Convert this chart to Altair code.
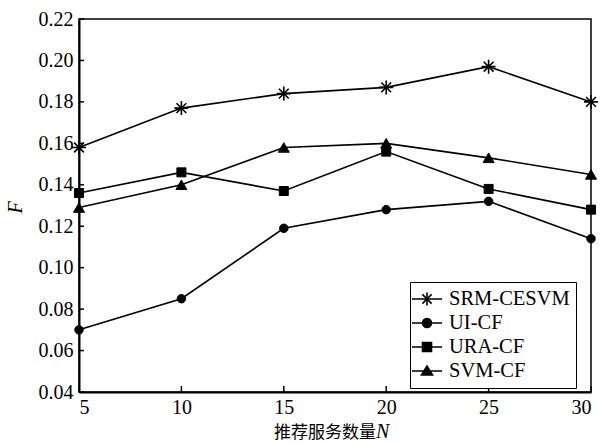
import altair as alt
import pandas as pd

N_values = [5, 10, 15, 20, 25, 30]
series_names = ["SRM-CESVM", "UI-CF", "URA-CF", "SVM-CF"]
srm_cesvm = [0.158, 0.177, 0.184, 0.187, 0.197, 0.180]
ui_cf = [0.070, 0.085, 0.119, 0.128, 0.132, 0.114]
ura_cf = [0.136, 0.146, 0.137, 0.156, 0.138, 0.128]
svm_cf = [0.129, 0.140, 0.158, 0.160, 0.153, 0.145]
y_ticks = [0.04, 0.06, 0.08, 0.10, 0.12, 0.14, 0.16, 0.18, 0.20, 0.22]
x_ticks = [5, 10, 15, 20, 25, 30]

rows = []
for name, vals in zip(series_names, [srm_cesvm, ui_cf, ura_cf, svm_cf]):
    for n, v in zip(N_values, vals):
        rows.append({"N": n, "F": v, "series": name})
df = pd.DataFrame(rows)

W, H = 512, 373
SERIF = "Liberation Serif"

star = "M-1,0H1M0,-1V1M-0.7,-0.7L0.7,0.7M-0.7,0.7L0.7,-0.7"
plot_shapes = [star, "circle", "square", "triangle-up"]
plot_sizes = [196, 72, 81, 121]

# legend symbols: marker part (filled) and line + outline part (stroked)
m_star = "M0,-0.65V0.65M-0.46,-0.46L0.46,0.46M-0.46,0.46L0.46,-0.46M-0.65,0H0.65"
m_circle = "M0.45,0A0.45,0.45 0 1,1 -0.45,0A0.45,0.45 0 1,1 0.45,0Z"
m_square = "M-0.45,-0.45H0.45V0.45H-0.45Z"
m_tri = "M-0.55,0.4L0,-0.5L0.55,0.4Z"
fill_shapes = ["M-1.5,0H1.5" + m for m in [m_star, m_circle, m_square, m_tri]]
line_shapes = ["M-1.5,0H1.5" + m for m in [m_star, m_circle, m_square, m_tri]]

xscale = alt.Scale(domain=[5, 30], nice=False)
yscale = alt.Scale(domain=[0.04, 0.22], nice=False, zero=False)

x_enc = alt.X("N:Q", scale=xscale,
              axis=alt.Axis(values=x_ticks, title=None, ticks=False, labelPadding=5,
                            labelFont=SERIF, labelFontSize=20, labelColor="black",
                            domainColor="black", domainWidth=2, grid=False))
y_enc = alt.Y("F:Q", scale=yscale,
              axis=alt.Axis(values=y_ticks, format=".2f", title="F", ticks=False,
                            labelPadding=6, labelFont=SERIF, labelFontSize=20,
                            labelColor="black", domainColor="black", domainWidth=2,
                            grid=False, titleFont=SERIF, titleFontStyle="italic",
                            titleFontWeight="normal", titleFontSize=20,
                            titleColor="black", titleAngle=-90, titleX=-54,
                            titleY=188, titleAlign="center", titleBaseline="bottom"))

lines = alt.Chart(df).mark_line(color="black", strokeWidth=1.6).encode(
    x=x_enc, y=y_enc, detail="series:N")

point_layers = []
for name, shp, sz in zip(series_names, plot_shapes, plot_sizes):
    sw = 1.6 if shp == star else 1.0
    point_layers.append(
        alt.Chart(df).transform_filter(alt.datum.series == name).mark_point(
            filled=True, fill="black", stroke="black", strokeWidth=sw, opacity=1,
            shape=shp, size=sz).encode(
            x=alt.X("N:Q", scale=xscale), y=alt.Y("F:Q", scale=yscale))
    )

def legend_props(show_box, label_opacity):
    kw = dict(title=None, orient="none", legendX=331, legendY=263,
              labelFont=SERIF, labelFontSize=20.5, labelColor="black",
              labelOpacity=label_opacity, symbolSize=400, symbolStrokeWidth=1.6,
              symbolStrokeColor="black", symbolFillColor="black",
              padding=6, rowPadding=2, labelOffset=11)
    if show_box:
        kw.update(strokeColor="black", fillColor="white")
    return alt.Legend(**kw)

legend_fill = alt.Chart(df).transform_filter("datum.N > 1000").mark_point(
    filled=True, fill="black", size=400, opacity=1).encode(
    x=alt.X("N:Q", scale=xscale), y=alt.Y("F:Q", scale=yscale),
    shape=alt.Shape("series:N", scale=alt.Scale(domain=series_names, range=fill_shapes),
                    legend=legend_props(True, 1)),
)
legend_line = alt.Chart(df).transform_filter("datum.N > 1000").mark_point(
    filled=False, stroke="black", strokeWidth=1.6, size=400, opacity=1).encode(
    x=alt.X("N:Q", scale=xscale), y=alt.Y("F:Q", scale=yscale),
    strokeDash=alt.StrokeDash("series:N", scale=alt.Scale(domain=series_names,
                              range=[[1, 0], [1, 0], [1, 0], [1, 0]]), legend=None),
    shape=alt.Shape("series:N", scale=alt.Scale(domain=series_names, range=line_shapes),
                    legend=legend_props(False, 0)),
)

tick_data = pd.DataFrame({"v": y_ticks})
ytick_rules = alt.Chart(tick_data).mark_rule(color="black", strokeWidth=1.5).encode(
    x=alt.value(0), x2=alt.value(5), y=alt.Y("v:Q", scale=yscale))
xtick_data = pd.DataFrame({"t": x_ticks})
xtick_rules = alt.Chart(xtick_data).mark_rule(color="black", strokeWidth=1.5).encode(
    x=alt.X("t:Q", scale=xscale), y=alt.value(H - 6), y2=alt.value(H))

one = alt.Data(values=[{"a": 1}])
title_cn = alt.Chart(one).mark_text(font="Noto Sans CJK SC", fontSize=17, align="right",
                                    baseline="alphabetic", color="black").encode(
    x=alt.value(297), y=alt.value(419), text=alt.value("推荐服务数量"))
title_n = alt.Chart(one).mark_text(font=SERIF, fontSize=20, fontStyle="italic", align="left",
                                   baseline="alphabetic", color="black").encode(
    x=alt.value(297), y=alt.value(419), text=alt.value("N"))

chart = alt.layer(lines, *point_layers, legend_fill, legend_line, ytick_rules, xtick_rules,
                  title_cn, title_n).resolve_scale(
    shape="independent"
).resolve_legend(shape="independent").properties(
    width=W, height=H,
    autosize=alt.AutoSizeParams(type="none"),
    padding={"left": 79, "top": 19, "right": 11, "bottom": 51},
    background="white",
).configure_view(stroke="black", strokeWidth=1.5)

chart.save("out.html", embed_options={"renderer": "svg", "actions": False})
